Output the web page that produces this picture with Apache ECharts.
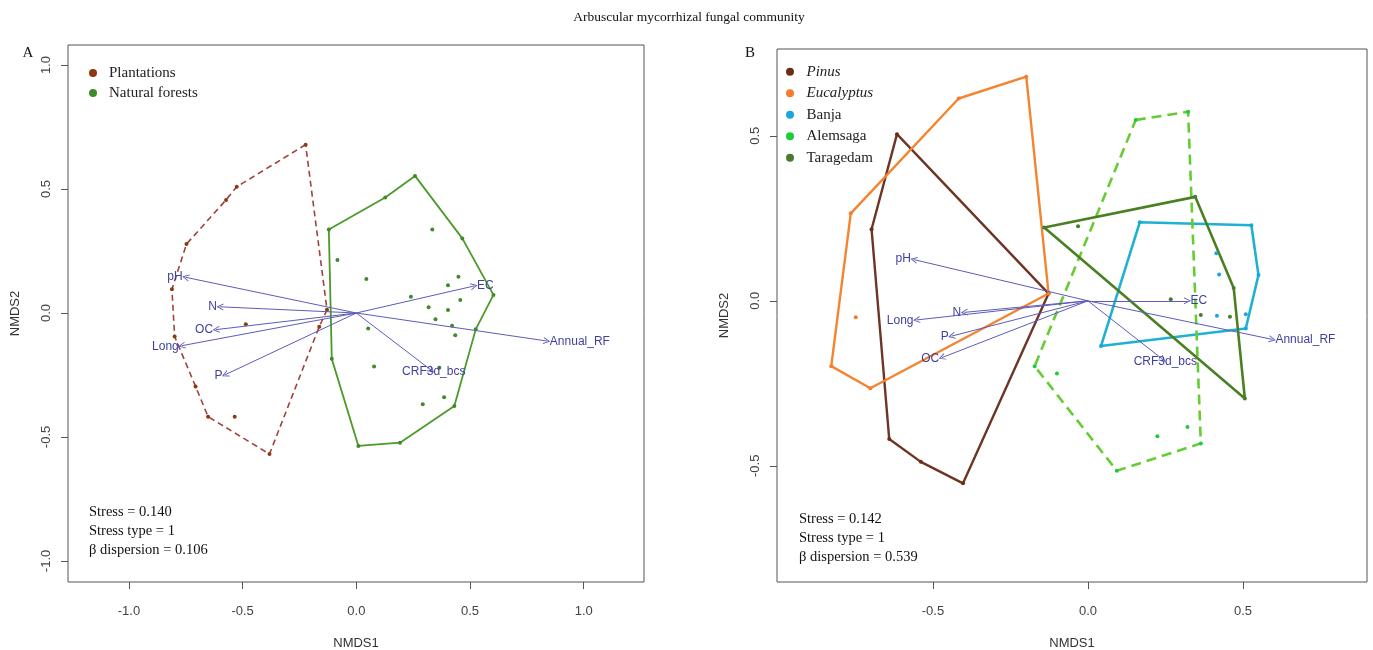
<!DOCTYPE html>
<html><head><meta charset="utf-8">
<script src="https://cdn.jsdelivr.net/npm/echarts@6/dist/echarts.min.js"></script>
<style>html,body{margin:0;padding:0;background:#fff}#c{width:1373px;height:650px}</style>
</head><body><div id="c"></div>
<script>
// ---------- Tick labels ----------
const ticksA = [-1.0, -0.5, 0.0, 0.5, 1.0];
const ticksB = [-0.5, 0.0, 0.5];

// ---------- Panel A: Plantations vs Natural forests ----------
const plantationsHull = [[-0.223,0.679],[-0.526,0.509],[-0.573,0.456],[-0.747,0.278],[-0.811,0.096],[-0.799,-0.095],[-0.707,-0.296],[-0.652,-0.418],[-0.382,-0.569],[-0.163,-0.055],[-0.129,0.013]];
const plantationsInner = [[-0.486,-0.045],[-0.535,-0.418]];
const forestsHull = [[-0.121,0.337],[0.127,0.466],[0.258,0.553],[0.466,0.301],[0.603,0.073],[0.525,-0.066],[0.431,-0.375],[0.192,-0.523],[0.009,-0.536],[-0.108,-0.185]];
const forestsInner = [[0.334,0.337],[-0.083,0.214],[0.044,0.137],[0.449,0.146],[0.403,0.112],[0.240,0.066],[0.457,0.052],[0.318,0.023],[0.403,0.012],[0.348,-0.025],[0.421,-0.051],[0.435,-0.090],[0.052,-0.062],[0.078,-0.216],[0.365,-0.221],[0.386,-0.340],[0.292,-0.368]];

// ---------- Environmental vectors ----------
const vectorNames = ['pH','N','OC','Long','P','CRF3d_bcs','EC','Annual_RF'];
const vectorsA = [[-0.751,0.144],[-0.600,0.025],[-0.617,-0.067],[-0.768,-0.132],[-0.577,-0.249],[0.330,-0.231],[0.518,0.109],[0.838,-0.113]];
const vectorsB = [[-0.562,0.125],[-0.399,-0.035],[-0.471,-0.172],[-0.553,-0.058],[-0.440,-0.107],[0.242,-0.178],[0.321,0.000],[0.595,-0.117]];

// ---------- Panel B: five groups ----------
const pinusHull = [[-0.616,0.505],[-0.698,0.217],[-0.641,-0.419],[-0.539,-0.488],[-0.403,-0.553],[-0.127,0.022]];
const pinusInner = [];
const eucalyptusHull = [[-0.199,0.679],[-0.417,0.613],[-0.765,0.265],[-0.828,-0.198],[-0.702,-0.265],[-0.127,0.022]];
const eucalyptusInner = [[-0.749,-0.050]];
const banjaHull = [[0.167,0.238],[0.527,0.229],[0.550,0.078],[0.509,-0.084],[0.042,-0.137]];
const banjaInner = [[0.414,0.144],[0.423,0.080],[0.416,-0.045],[0.509,-0.041]];
const alemsagaHull = [[0.154,0.548],[0.323,0.573],[0.364,-0.432],[0.093,-0.515],[-0.172,-0.198]];
const alemsagaInner = [[-0.100,-0.220],[0.224,-0.410],[0.321,-0.382]];
const taragedamHull = [[-0.141,0.222],[0.346,0.315],[0.470,0.039],[0.506,-0.296]];
const taragedamInner = [[-0.032,0.226],[0.267,0.005],[0.364,-0.043],[0.458,-0.048]];

const statsA = ['Stress = 0.140','Stress type = 1','β dispersion = 0.106'];
const statsB = ['Stress = 0.142','Stress type = 1','β dispersion = 0.539'];

// ---------- helpers ----------
const SANS = '"Liberation Sans", Arial, sans-serif';
const SERIF = '"Liberation Serif", "Times New Roman", serif';
const close = h => h.concat([h[0]]);
const chevron = 'path://M0,10 L5,0 L10,10 L8.6,10 L5,2.8 L1.4,10 Z';

function xAxis(gi, min, max, ticks){
  return {type:'value', gridIndex:gi, min, max, name:'NMDS1', nameLocation:'middle', nameGap:55,
    nameTextStyle:{fontFamily:SANS, fontSize:13, color:'#333'},
    axisLine:{show:false, onZero:false}, splitLine:{show:false},
    axisTick:{show:true, inside:false, length:7, customValues:ticks, lineStyle:{color:'#555'}},
    axisLabel:{customValues:ticks, formatter:v=>v.toFixed(1), margin:23, fontFamily:SANS, fontSize:13, color:'#444'}};
}
function yAxis(gi, min, max, ticks){
  return {type:'value', gridIndex:gi, min, max, name:'NMDS2', nameLocation:'middle', nameGap:46,
    nameTextStyle:{fontFamily:SANS, fontSize:13, color:'#333'},
    axisLine:{show:false, onZero:false}, splitLine:{show:false},
    axisTick:{show:true, inside:false, length:7, customValues:ticks, lineStyle:{color:'#555'}},
    axisLabel:{customValues:ticks, formatter:v=>v.toFixed(1), rotate:90, margin:15, fontFamily:SANS, fontSize:13, color:'#444'}};
}
function hull(name, gi, pts, color, width, dash){
  return {type:'line', name, xAxisIndex:gi, yAxisIndex:gi, data:close(pts), symbol:'none', silent:true, z:2,
    lineStyle:{color, width, type:dash||'solid'}};
}
function pts(name, gi, data, color){
  return {type:'scatter', name, xAxisIndex:gi, yAxisIndex:gi, data, symbolSize:4, z:3, itemStyle:{color, opacity:1}};
}
function vectors(gi, vals, lineColor){
  return {type:'lines', coordinateSystem:'cartesian2d', xAxisIndex:gi, yAxisIndex:gi, z:4, silent:true,
    symbol:['none', chevron], symbolSize:[0,7],
    lineStyle:{color:lineColor, width:1, opacity:1},
    label:{show:true, position:'end', distance:3, formatter:p=>p.name, color:'#3f3fa0', fontFamily:SANS, fontSize:12},
    data: vals.map((v,i)=>({name:vectorNames[i], coords:[[0,0], v]}))};
}
function statTexts(x, y0, step, lines){
  return lines.map((t,i)=>({type:'text', x, y:y0+i*step, style:{text:t, fontFamily:SERIF, fontSize:14.5, fill:'#111', align:'left', verticalAlign:'middle'}}));
}

const italic = ['Pinus','Eucalyptus'];
const chart = echarts.init(document.getElementById('c'), null, {renderer:'canvas'});
chart.setOption({
  animation:false,
  backgroundColor:'#fff',
  grid:[
    {left:68, top:45, width:576, height:537, outerBoundsMode:'none', containLabel:false, show:true, borderColor:'#555', borderWidth:1, backgroundColor:'transparent'},
    {left:777, top:49, width:590, height:533, outerBoundsMode:'none', containLabel:false, show:true, borderColor:'#555', borderWidth:1, backgroundColor:'transparent'}
  ],
  xAxis:[xAxis(0,-1.268,1.265,ticksA), xAxis(1,-1.003,0.900,ticksB)],
  yAxis:[yAxis(0,-1.085,1.081,ticksA), yAxis(1,-0.852,0.763,ticksB)],
  legend:[
    {left:89, top:63, orient:'vertical', selectedMode:false, padding:0, itemGap:0, icon:'circle', itemWidth:22, itemHeight:8,
     data:['Plantations','Natural forests'],
     textStyle:{fontFamily:SERIF, fontSize:15, color:'#222', lineHeight:20}},
    {left:786, top:61, orient:'vertical', selectedMode:false, padding:0, itemGap:0, icon:'circle', itemWidth:23, itemHeight:8,
     data:['Pinus','Eucalyptus','Banja','Alemsaga','Taragedam'],
     formatter:n=> italic.includes(n) ? '{i|'+n+'}' : n,
     textStyle:{fontFamily:SERIF, fontSize:15, color:'#222', lineHeight:21.5,
       rich:{i:{fontFamily:SERIF, fontSize:15, fontStyle:'italic', color:'#222', lineHeight:21.5}}}}
  ],
  graphic: [
    {type:'text', x:689, y:17, style:{text:'Arbuscular mycorrhizal fungal community', fontFamily:SERIF, fontSize:13.5, fill:'#111', align:'center', verticalAlign:'middle'}},
    {type:'text', x:28, y:53, style:{text:'A', fontFamily:SERIF, fontSize:15, fill:'#111', align:'center', verticalAlign:'middle'}},
    {type:'text', x:750, y:53, style:{text:'B', fontFamily:SERIF, fontSize:15, fill:'#111', align:'center', verticalAlign:'middle'}}
  ].concat(statTexts(89, 512, 19.2, statsA), statTexts(799, 519, 19.2, statsB)),
  series:[
    hull('Plantations hull',0,plantationsHull,'#a0423a',1.6,[6,4]),
    hull('Natural forests hull',0,forestsHull,'#4c9a2a',1.8),
    pts('Plantations',0,plantationsHull.concat(plantationsInner),'#8a3a12'),
    pts('Natural forests',0,forestsHull.concat(forestsInner),'#3f8a2a'),
    vectors(0, vectorsA, '#5c5cb8'),

    hull('Pinus hull',1,pinusHull,'#6e3424',2.4),
    hull('Eucalyptus hull',1,eucalyptusHull,'#f5842e',2.4),
    hull('Banja hull',1,banjaHull,'#1eb1d2',2.6),
    hull('Alemsaga hull',1,alemsagaHull,'#66cc33',2.6,[10,6]),
    hull('Taragedam hull',1,taragedamHull,'#4a8022',2.6),
    pts('Pinus',1,pinusHull.concat(pinusInner),'#6b2d1a'),
    pts('Eucalyptus',1,eucalyptusHull.concat(eucalyptusInner),'#f47c2c'),
    pts('Banja',1,banjaHull.concat(banjaInner),'#18a8dc'),
    pts('Alemsaga',1,alemsagaHull.concat(alemsagaInner),'#1dcc3c'),
    pts('Taragedam',1,taragedamHull.concat(taragedamInner),'#4a7a2e'),
    vectors(1, vectorsB, '#5c5cb8')
  ]
});
</script></body></html>
